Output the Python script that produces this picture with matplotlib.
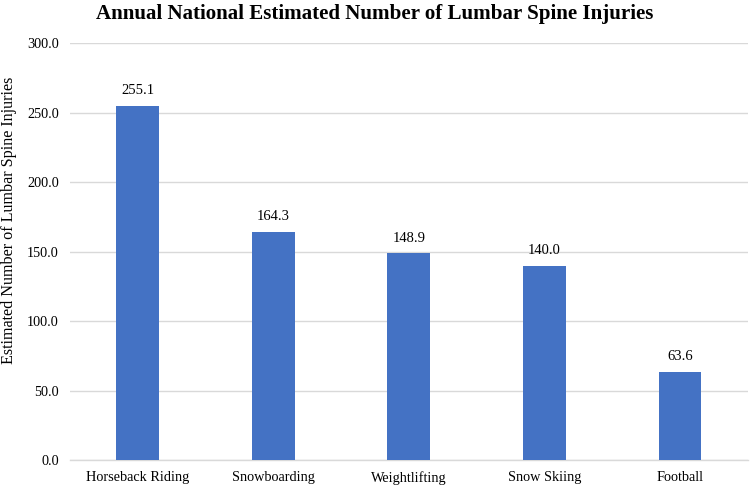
import matplotlib
matplotlib.use("Agg")
import matplotlib.pyplot as plt

categories = ["Horseback Riding", "Snowboarding", "Weightlifting", "Snow Skiing", "Football"]
values = [255.1, 164.3, 148.9, 140.0, 63.6]
yticks = [0, 50, 100, 150, 200, 250, 300]

plt.rcParams['font.family'] = ['Liberation Serif', 'DejaVu Serif']

fig = plt.figure(figsize=(7.5, 4.86), dpi=100)
ax = fig.add_axes([0.093, 0.0535, 0.904, 0.8575])

x = list(range(len(categories)))
bars = ax.bar(x, values, width=0.315, color="#4472C4", zorder=3)
for xi, v in zip(x, values):
    ax.annotate(f"{v:.1f}", (xi, v), xytext=(0, 6), textcoords="offset points",
                ha="center", va="bottom", fontsize=10.5, color="black")

ax.set_xlim(-0.5, len(categories) - 0.5)
ax.set_ylim(0, 300)
ax.set_yticks(yticks)
ax.set_yticklabels([f"{t:.1f}" for t in yticks], fontsize=10.3)
ax.set_xticks(x)
ax.set_xticklabels(categories, fontsize=10.3)
ax.tick_params(axis="both", length=0, pad=8)
ax.tick_params(axis="x", pad=8)
ax.yaxis.grid(True, color="#d9d9d9", linewidth=1, zorder=0)
for s in ["top", "right", "left"]:
    ax.spines[s].set_visible(False)
ax.spines["bottom"].set_color("#d9d9d9")
ax.spines["bottom"].set_linewidth(1)
fig.text(0.012, 0.547, "Estimated Number of Lumbar Spine Injuries",
         rotation=90, ha="center", va="center", fontsize=11.6)
fig.text(0.5, 0.972, "Annual National Estimated Number of Lumbar Spine Injuries",
         ha="center", va="center", fontsize=15.1, fontweight="bold")

fig.savefig("out.png", dpi=100)
